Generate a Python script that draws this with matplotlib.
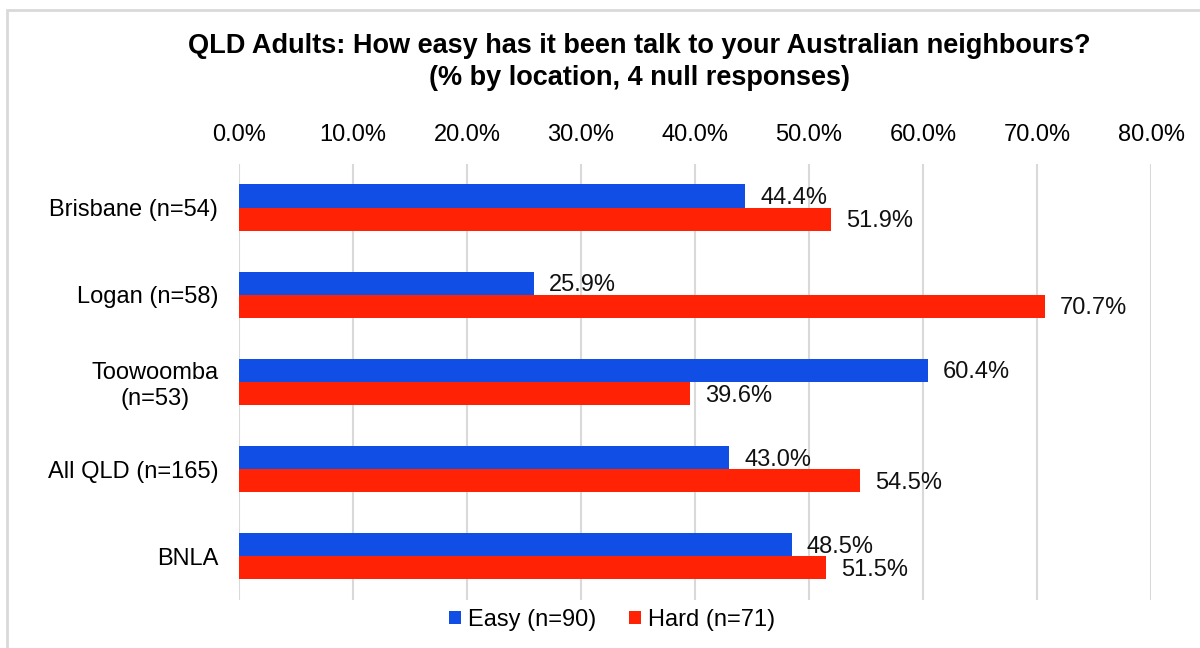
import matplotlib.pyplot as plt
import numpy as np
from matplotlib.patches import Rectangle

plt.rcParams['font.family'] = ['Liberation Sans', 'DejaVu Sans']

locations = ['Brisbane (n=54)', 'Logan (n=58)', 'Toowoomba\n(n=53)', 'All QLD (n=165)', 'BNLA']
easy = [44.4, 25.9, 60.4, 43.0, 48.5]
hard = [51.9, 70.7, 39.6, 54.5, 51.5]
series_names = ['Easy (n=90)', 'Hard (n=71)']
ticks = [0, 10, 20, 30, 40, 50, 60, 70, 80]

blue = '#104EE6'
red = '#FF2205'

fig = plt.figure(figsize=(12, 6.48), dpi=100)
ax = fig.add_axes([0.1992, 0.0741, 0.76, 0.6728])

y = np.arange(len(locations))
h = 0.265
b1 = ax.barh(y - h / 2, easy, height=h, color=blue, label=series_names[0], zorder=3)
b2 = ax.barh(y + h / 2, hard, height=h, color=red, label=series_names[1], zorder=3)

# value labels just past the end of each bar
for bars, vals in ((b1, easy), (b2, hard)):
    for bar, v in zip(bars, vals):
        ax.annotate('%.1f%%' % v, (v, bar.get_y() + bar.get_height() / 2),
                    xytext=(15, -2), textcoords='offset pixels',
                    ha='left', va='center', fontsize=17, color='#111111')

ax.set_xlim(0, 80)
ax.set_ylim(len(locations) - 0.5, -0.5)
ax.set_xticks(ticks)
ax.set_xticklabels(['%.1f%%' % t for t in ticks], fontsize=17)
ax.xaxis.tick_top()
ax.tick_params(axis='x', length=0, pad=13)
ax.set_yticks(y)
ax.set_yticklabels(locations, fontsize=17, multialignment='center')
ax.tick_params(axis='y', length=0, pad=15)
ax.grid(axis='x', color='#D9D9D9', linewidth=1.5, zorder=0)
for s in ax.spines.values():
    s.set_visible(False)

fig.text(0.533, 0.929, 'QLD Adults: How easy has it been talk to your Australian neighbours?',
         ha='center', va='center', fontsize=19.5, fontweight='bold')
fig.text(0.533, 0.879, '(% by location, 4 null responses)',
         ha='center', va='center', fontsize=19.5, fontweight='bold')

fig.legend(loc='center', bbox_to_anchor=(0.51, 0.043), ncol=2, frameon=False,
           fontsize=17, handlelength=0.5, handleheight=0.5, handletextpad=0.3,
           columnspacing=1.4)

fig.patches.append(Rectangle((7 / 1200, -0.01), 1.1, 1 - 10 / 648 + 0.01,
                             transform=fig.transFigure, fill=False,
                             edgecolor='#D9D9D9', linewidth=2))

fig.savefig('out.png', dpi=100)
